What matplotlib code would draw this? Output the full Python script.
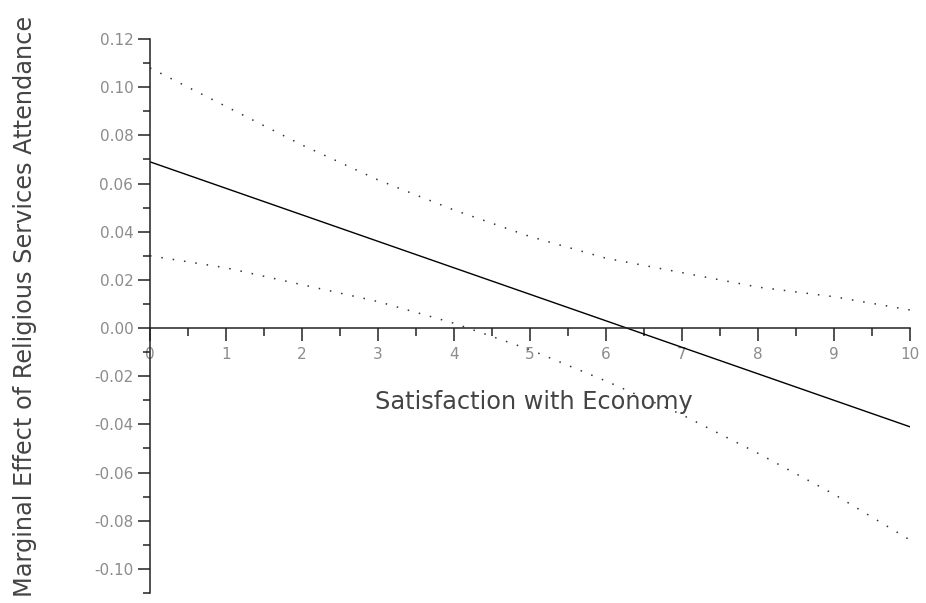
import matplotlib.pyplot as plt
from matplotlib.ticker import MultipleLocator, FuncFormatter

plt.rcParams['font.family'] = ['DejaVu Sans']

# satisfaction with economy
x = [0, 1, 2, 3, 4, 5, 6, 7, 8, 9, 10]
# marginal effect and confidence bounds
effect = [0.069, 0.058, 0.047, 0.036, 0.025, 0.014, 0.003, -0.008, -0.019, -0.030, -0.041]
upper = [0.108, 0.092, 0.076, 0.0615, 0.049, 0.038, 0.029, 0.023, 0.017, 0.013, 0.0075]
lower = [0.030, 0.025, 0.018, 0.011, 0.002, -0.009, -0.022, -0.036, -0.052, -0.069, -0.088]

fig = plt.figure(figsize=(9.26, 6.03), dpi=100)
ax = fig.add_axes([150 / 926, 1 - 593 / 603, 760 / 926, 554 / 603])

ax.plot(x, effect, color='black', lw=1.0)
ax.plot(x, upper, color='#333333', lw=1.1, linestyle=(0, (1, 6.5)))
ax.plot(x, lower, color='#333333', lw=1.1, linestyle=(0, (1, 6.5)))

ax.set_xlim(0, 10)
ax.set_ylim(-0.11, 0.12)

# axes cross at the origin
ax.spines['left'].set_position(('data', 0))
ax.spines['bottom'].set_position(('data', 0))
ax.spines['top'].set_visible(False)
ax.spines['right'].set_visible(False)
for s in ('left', 'bottom'):
    ax.spines[s].set_linewidth(1.1)
    ax.spines[s].set_color('#222222')

ax.xaxis.set_major_locator(MultipleLocator(1))
ax.xaxis.set_minor_locator(MultipleLocator(0.5))
ax.yaxis.set_major_locator(MultipleLocator(0.02))
ax.yaxis.set_minor_locator(MultipleLocator(0.01))
ax.yaxis.set_major_formatter(FuncFormatter(lambda v, p: f'{v:.2f}' if abs(v) > 1e-9 else '0.00'))
ax.xaxis.set_major_formatter(FuncFormatter(lambda v, p: f'{v:.0f}'))

ax.tick_params(axis='x', which='major', direction='out', length=9, width=1.1,
               color='#222222', labelsize=11, labelcolor='#8c8c8c', pad=5)
ax.tick_params(axis='x', which='minor', direction='out', length=5.5, width=1.1, color='#222222')
ax.tick_params(axis='y', which='major', direction='out', length=9, width=1.1,
               color='#222222', labelsize=11, labelcolor='#8c8c8c', pad=3)
ax.tick_params(axis='y', which='minor', direction='out', length=5, width=1.1, color='#222222')

ax.text(5.05, -0.0305, 'Satisfaction with Economy', ha='center', va='center',
        fontsize=17.3, color='#444444')
fig.text(25 / 926, 1 - 306 / 603, 'Marginal Effect of Religious Services Attendance',
         rotation=90, ha='center', va='center', fontsize=17.3, color='#444444')

fig.savefig('out.png', dpi=100)
